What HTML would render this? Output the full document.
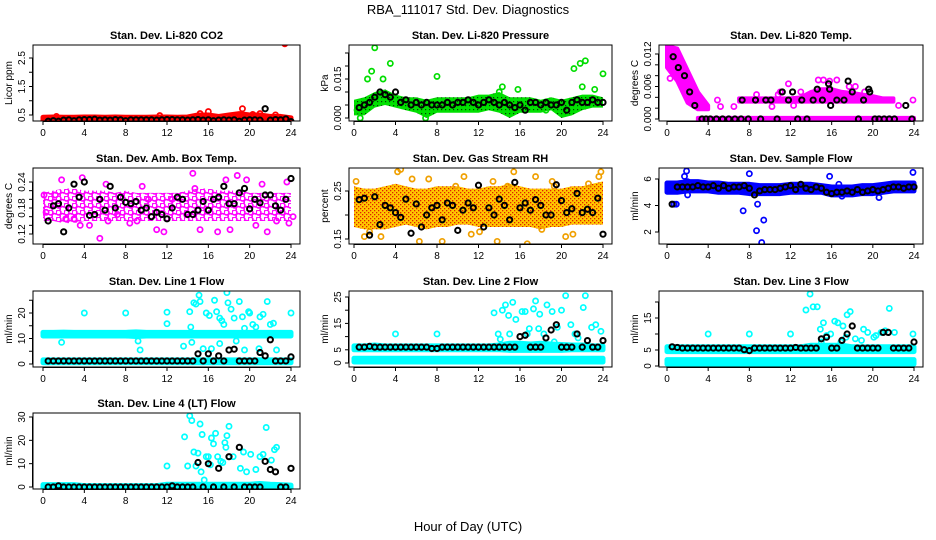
<!DOCTYPE html>
<html><head><meta charset="utf-8"><style>
html,body{margin:0;padding:0;background:#fff}
svg{display:block;font-family:"Liberation Sans",sans-serif}
</style></head><body>
<svg id="chart" width="936" height="540" xmlns="http://www.w3.org/2000/svg">
<defs>
<pattern id="pat-amb" width="8" height="7" patternUnits="userSpaceOnUse">
<circle cx="2.5" cy="2.5" r="2.4" fill="none" stroke="#ff00ff" stroke-width="1.6"/>
<circle cx="6.5" cy="6" r="2.4" fill="none" stroke="#ff00ff" stroke-width="1.6"/>
</pattern>
<pattern id="pat-rh" width="4" height="4" patternUnits="userSpaceOnUse">
<rect width="4" height="4" fill="#ffc800"/>
<rect x="0" y="0" width="1.3" height="1.3" fill="#e02000"/>
<rect x="2" y="2" width="1.3" height="1.3" fill="#e02000"/>
</pattern>
<pattern id="pat-pres" width="4" height="4" patternUnits="userSpaceOnUse">
<rect width="4" height="4" fill="#00e000"/>
<rect x="1" y="1" width="1.2" height="1.2" fill="#004000"/>
</pattern>
</defs>
<rect width="936" height="540" fill="#fff"/>
<text x="468" y="14" font-size="13" text-anchor="middle">RBA_111017  Std. Dev. Diagnostics</text>
<text x="468" y="531" font-size="13" text-anchor="middle">Hour of Day (UTC)</text>
</svg>
<script>
// ---------- data ----------
const hourCats = [0,1,2,3,4,5,6,7,8,9,10,11,12,13,14,15,16,17,18,19,20,21,22,23,24];
const halfHours = [0.5,1,1.5,2,2.5,3,3.5,4,4.5,5,5.5,6,6.5,7,7.5,8,8.5,9,9.5,10,10.5,11,11.5,12,12.5,13,13.5,14,14.5,15,15.5,16,16.5,17,17.5,18,18.5,19,19.5,20,20.5,21,21.5,22,22.5,23,23.5,24];

// CO2
const co2BandLo = [0.27,0.27,0.27,0.27,0.27,0.27,0.27,0.27,0.27,0.27,0.27,0.27,0.27,0.27,0.27,0.27,0.27,0.27,0.27,0.27,0.27,0.27,0.27,0.27,0.2];
const co2BandHi = [0.42,0.43,0.42,0.42,0.43,0.43,0.42,0.43,0.42,0.42,0.42,0.43,0.43,0.42,0.43,0.5,0.5,0.45,0.5,0.55,0.5,0.5,0.45,0.45,0.4];
const co2ScatH = [16,19.3,23.4,15.2,20.3,1.3,11.3,21,22.5];
const co2ScatV = [0.62,0.72,3.0,0.55,0.52,0.45,0.48,0.55,0.5];
const co2Black = [0.28,0.3,0.28,0.32,0.33,0.3,0.33,0.34,0.34,0.35,0.32,0.33,0.32,0.34,0.33,0.3,0.33,0.33,0.33,0.33,0.33,0.32,0.33,0.34,0.34,0.33,0.33,0.32,0.33,0.34,0.32,0.33,0.3,0.32,0.33,0.32,0.33,0.28,0.32,0.33,0.33,0.32,0.72,0.32,0.34,0.33,0.36,0.27];

// Pressure
const presBandLo = [0.001,0.001,0.004,0.005,0.004,0.003,0.002,0.000,0.002,0.002,0.002,0.002,0.002,0.003,0.002,0.000,0.002,0.002,0.002,0.003,0.000,0.001,0.003,0.004,0.004];
const presBandHi = [0.007,0.008,0.010,0.011,0.009,0.008,0.008,0.007,0.008,0.008,0.008,0.008,0.009,0.009,0.010,0.008,0.008,0.008,0.007,0.008,0.007,0.008,0.009,0.009,0.008];
const presScatH = [2,1.3,1.7,2.8,3.5,8,14.3,15.8,21.2,21.8,22.3,24,23.2,18.5,0.6,6.9,14,22,0.3];
const presScatV = [0.027,0.015,0.018,0.015,0.021,0.016,0.012,0.011,0.019,0.021,0.022,0.017,0.011,0.003,0.0,0.0,0.01,0.012,0.003];
const presBlack = [0.004,0.005,0.006,0.008,0.010,0.009,0.008,0.010,0.006,0.007,0.005,0.006,0.005,0.006,0.005,0.005,0.005,0.006,0.005,0.006,0.006,0.007,0.006,0.005,0.006,0.007,0.006,0.005,0.006,0.005,0.004,0.005,0.003,0.006,0.006,0.005,0.006,0.005,0.005,0.006,0.003,0.006,0.007,0.006,0.006,0.007,0.006,0.006];

// Li-820 temp
const tempBandLo = [0.0095,0.007,0.003,0.0018,0.0018,null,null,0.0032,0.0032,0.0032,0.0032,0.0032,0.0032,0.0032,0.0032,0.0032,0.0032,0.0032,0.0032,0.0032,0.0032,0.0032,0.0032,null,null];
const tempBandHi = [0.0135,0.013,0.009,0.005,0.0025,null,null,0.0038,0.0038,0.0038,0.0038,0.0038,0.0038,0.0040,0.0050,0.0055,0.0055,0.0050,0.0048,0.0045,0.0042,0.0038,0.0038,null,null];
const tempBand2Lo = [null,null,null,-0.0003,-0.0003,-0.0003,-0.0003,-0.0003,-0.0003,-0.0003,-0.0003,-0.0003,-0.0003,-0.0003,-0.0003,-0.0003,-0.0003,-0.0003,-0.0003,-0.0003,-0.0003,-0.0003,-0.0003,-0.0003,-0.0003];
const tempBand2Hi = [null,null,null,0.0002,0.0002,0.0002,0.0002,0.0002,0.0002,0.0002,0.0002,0.0002,0.0002,0.0002,0.0002,0.0002,0.0002,0.0002,0.0002,0.0002,0.0002,0.0002,0.0002,0.0002,0.0002];
const tempScatH = [0.3,5.2,6.5,10.2,11.8,14.7,15.2,16.5,18.3,19.2,23.9,4.9,12.3,22.5,8.7,11,13,15.8,17.7,10.8];
const tempScatV = [0.0075,0.0023,0.0023,0.0023,0.0065,0.0072,0.0072,0.0072,0.006,0.005,0.0035,0.0035,0.0025,0.0025,0.0045,0.005,0.005,0.007,0.006,0.0045];
const tempBlackH = [0.6,1.1,1.7,2.2,2.7,3.4,3.8,4.2,4.8,5.4,6,6.6,7.2,7.3,7.9,8.6,9.1,9.6,10.1,10.7,11.2,11.8,12.2,12.7,13.1,13.6,14.2,14.6,15.1,15.7,15.8,15.9,16.5,17.2,17.6,18,18.6,19.1,19.6,19.7,20.2,20.6,21.1,21.6,22.1,23.2,23.8];
const tempBlackV = [0.0115,0.0095,0.008,0.005,0.0025,0,0,0,0,0,0,0,0,0.0035,0,0.0035,0,0.0035,0.0035,0,0.005,0.0035,0.005,0,0.0035,0,0.0035,0.0055,0.0035,0.0065,0.0055,0.0025,0.0035,0.0035,0.0070,0.0050,0,0.0035,0.0055,0.005,0,0,0,0,0,0.0025,0];

// Amb box temp
const ambBandLo = [0.15,0.15,0.145,0.145,0.15,0.15,0.15,0.15,0.15,0.15,0.15,0.15,0.15,0.15,0.15,0.15,0.15,0.15,0.15,0.15,0.15,0.15,0.15,0.15,0.15];
const ambBandHi = [0.215,0.22,0.225,0.225,0.22,0.22,0.22,0.215,0.22,0.215,0.215,0.215,0.215,0.215,0.22,0.225,0.225,0.22,0.22,0.22,0.215,0.215,0.215,0.215,0.215];
const ambScatH = [0.1,0.3,1.8,2.2,3.6,3.8,4.5,5.5,6.1,6.3,7.2,8.4,9.6,10.2,11,11.7,12.5,14.5,14.7,15.2,16.9,17.7,18.8,19.7,20.6,21.2,21.7,22.6,23.6,23.8,1.2,3.0,9.1,13.9,18.1,24.2];
const ambScatV = [0.21,0.17,0.245,0.155,0.14,0.25,0.14,0.11,0.235,0.15,0.165,0.145,0.23,0.2,0.13,0.125,0.2,0.26,0.225,0.13,0.125,0.245,0.255,0.245,0.14,0.235,0.125,0.15,0.24,0.145,0.21,0.155,0.15,0.165,0.13,0.16];
const ambBlack = [0.15,0.185,0.19,0.125,0.18,0.235,0.205,0.24,0.163,0.165,0.2,0.175,0.23,0.18,0.205,0.193,0.19,0.195,0.175,0.18,0.16,0.17,0.165,0.155,0.18,0.205,0.2,0.165,0.165,0.175,0.195,0.175,0.2,0.205,0.23,0.19,0.19,0.215,0.225,0.178,0.2,0.192,0.21,0.21,0.185,0.175,0.2,0.248];

// Gas stream RH
const rhBandLo = [0.175,0.17,0.17,0.17,0.175,0.18,0.175,0.17,0.175,0.175,0.18,0.18,0.175,0.175,0.175,0.175,0.175,0.175,0.17,0.175,0.175,0.18,0.18,0.18,0.18];
const rhBandHi = [0.26,0.255,0.255,0.26,0.265,0.26,0.255,0.255,0.26,0.26,0.26,0.255,0.255,0.26,0.26,0.265,0.26,0.255,0.255,0.255,0.255,0.26,0.26,0.265,0.27];
const rhScatH = [0.2,1.5,2.6,4.2,4.5,5.6,6.3,7.2,8.5,9.8,10.6,12.1,13.4,14.8,15.4,16.7,17.5,18.1,19.1,20.4,21.1,22.6,23.6,23.8,1.0,11.3,13.8,19.3];
const rhScatV = [0.27,0.165,0.155,0.29,0.295,0.275,0.145,0.275,0.145,0.26,0.28,0.165,0.27,0.26,0.29,0.14,0.28,0.17,0.27,0.155,0.16,0.265,0.28,0.29,0.155,0.16,0.145,0.26];
const rhBlack = [0.232,0.235,0.158,0.238,0.18,0.22,0.215,0.205,0.195,0.233,0.162,0.223,0.175,0.2,0.215,0.22,0.19,0.225,0.22,0.168,0.21,0.225,0.215,0.262,0.175,0.215,0.2,0.233,0.22,0.19,0.268,0.215,0.225,0.21,0.232,0.22,0.2,0.2,0.263,0.23,0.205,0.213,0.245,0.205,0.212,0.205,0.235,0.16];

// Sample flow
const sfBandLo = [5.0,5.0,5.1,5.1,5.1,5.0,5.0,5.0,4.9,4.9,4.9,4.9,5.0,5.0,5.0,5.0,4.8,4.8,4.8,4.9,4.9,5.0,5.1,5.1,5.1];
const sfBandHi = [5.7,5.7,5.8,5.8,5.7,5.7,5.6,5.6,5.6,5.5,5.5,5.5,5.6,5.6,5.6,5.5,5.4,5.4,5.4,5.5,5.5,5.6,5.7,5.7,5.7];
const sfScatH = [0.7,0.9,1.7,1.9,2.0,7.4,8.0,8.7,8.8,9.2,9.4,15.8,23.9,16.7,17.0,20.6,2.0];
const sfScatV = [4.1,4.1,6.2,6.6,4.8,3.6,6.4,2.1,4.1,1.2,2.9,6.2,6.5,5.6,4.7,4.6,5.8];
const sfBlack = [4.1,5.4,5.4,5.4,5.4,5.5,5.4,5.4,5.5,5.3,5.5,5.3,5.4,5.4,5.5,5.3,4.8,5.1,5.2,5.2,5.2,5.3,5.4,5.5,5.2,5.6,5.3,5.2,5.4,5.3,5.0,4.9,5.0,5.0,5.1,5.0,5.2,5.0,5.1,5.2,5.1,5.2,5.3,5.4,5.4,5.3,5.4,5.4];

// Line 1 flow
const l1BandLo = [11.0,11.0,11.0,11.0,11.0,11.0,11.0,11.0,11.0,10.8,11.0,11.0,11.0,11.0,11.0,11.0,11.0,11.0,11.0,11.0,11.0,11.0,11.0,11.0,11.0];
const l1BandHi = [12.4,12.4,12.5,12.4,12.4,12.4,12.4,12.4,12.4,12.6,12.4,12.4,12.4,12.4,12.4,12.4,12.4,12.4,12.4,12.4,12.4,12.4,12.4,12.4,12.4];
const l1Band2Lo = [0.5,0.5,0.5,0.5,0.5,0.5,0.5,0.5,0.5,0.5,0.5,0.5,0.5,0.5,0.5,0.5,0.5,0.5,0.5,0.5,0.5,0.5,0.5,0.5,0.5];
const l1Band2Hi = [1.6,1.6,1.6,1.6,1.6,1.6,1.6,1.6,1.6,1.6,1.6,1.6,1.6,1.6,1.6,1.6,1.6,1.6,1.6,1.6,1.6,1.6,1.6,1.6,1.6];
const l1ScatH = [4,8,12,12,14.2,14.3,14.6,14.8,15.1,15.2,15.5,15.8,16.1,16.6,16.8,17.1,17.3,17.5,17.8,17.9,18.2,18.5,19,19.3,19.5,19.9,20,20.3,20.6,21,21.3,21.7,22,22.3,22.6,24,1.8,9.2,9.4,13.6,14.4,16.3,17.1,18.7,19.5,20.9];
const l1ScatV = [20,20,20.3,15.8,20.5,14.5,24,23.5,27,24.5,6,20,19,25,20.5,18,17,15.5,28,24,21.5,18,24.5,18.5,14,20.5,20,15.5,14.5,18.5,19.5,24.5,15.5,16,5.5,20,8.5,9,5.5,7,8.5,6,8,9,5.5,6];
const l1Black = [1.2,1.2,1.2,1.2,1.2,1.2,1.2,1.2,1.2,1.2,1.2,1.2,1.2,1.2,1.2,1.2,1.2,1.2,1.2,1.2,1.2,1.2,1.2,1.2,1.2,1.2,1.2,1.2,1.2,4,1.2,4,1.2,3.2,1.2,5.5,5.8,1.2,1.2,1.2,1.2,4.5,3.2,9.5,1.2,1.2,1.2,2.8];

// Line 2 flow
const l2BandLo = [5.0,5.0,5.0,5.0,5.0,5.0,5.0,5.0,5.0,5.0,5.0,5.0,5.0,5.0,5.0,4.8,4.8,4.8,4.8,4.8,4.8,5.0,5.0,5.0,5.0];
const l2BandHi = [6.5,6.5,6.8,6.5,6.5,6.5,6.5,6.5,6.5,6.5,6.5,6.5,6.5,6.5,6.8,7.5,7.5,7.2,7.5,7.2,7.0,6.8,6.8,6.5,6.5];
const l2Band2Lo = [0.4,0.4,0.4,0.4,0.4,0.4,0.4,0.4,0.4,0.4,0.4,0.4,0.4,0.4,0.4,0.4,0.4,0.4,0.4,0.4,0.4,0.4,0.4,0.4,0.4];
const l2Band2Hi = [1.8,1.8,1.8,1.8,1.8,1.8,1.8,1.8,1.8,1.8,1.8,1.8,1.8,1.8,1.8,1.8,1.8,1.8,1.8,1.8,1.8,1.8,1.8,1.8,1.8];
const l2ScatH = [4,8,13.5,13.9,14.3,14.6,14.9,15.3,15.6,16.2,16.5,16.7,16.9,17.3,17.5,17.9,18.3,18.6,19.1,19.6,20,20.4,20.9,21.3,21.6,22.1,22.3,22.9,23.3,23.8,14.1,15,17.8,19.3];
const l2ScatV = [11,11,19,11,20,22,18,23,16.5,19.5,19.5,11,13,20.5,23.5,18.5,11,22,19.5,13.5,20,25.5,14.5,11,9.5,21,25.5,13.5,14.5,12,9,11,13,8];
const l2Black = [6,6,6.3,6,6,6,6,6,6,6,6,6,6,6,5.5,5.5,6,6,6,6,6,6,6,6,6,6,6,6,6,6,6,10,10.5,6,6,6,9.5,12.5,14.5,6,6,6,11,6,8.5,6,6,8.5];

// Line 3 flow
const l3BandLo = [4.5,4.5,4.5,4.5,4.5,4.5,4.5,4.5,4.5,4.5,4.5,4.5,4.5,4.5,4.5,4.5,4.5,4.5,4.5,4.5,4.5,4.5,4.5,4.5,4.5];
const l3BandHi = [6.0,6.0,6.0,6.0,6.0,6.0,6.0,6.0,6.0,6.0,6.0,6.0,6.0,6.0,6.5,6.5,6.5,6.5,6.0,6.0,6.0,6.0,6.0,6.0,6.0];
const l3Band2Lo = [0.6,0.6,0.6,0.6,0.6,0.6,0.6,0.6,0.6,0.6,0.6,0.6,0.6,0.6,0.6,0.6,0.6,0.6,0.6,0.6,0.6,0.6,0.6,0.6,0.6];
const l3Band2Hi = [2.0,2.0,2.0,2.0,2.0,2.0,2.0,2.0,2.0,2.0,2.0,2.0,2.0,2.0,2.0,2.0,2.0,2.0,2.0,2.0,2.0,2.0,2.0,2.0,2.0];
const l3ScatH = [4,8,12,13.5,13.9,14.2,14.6,14.9,15.2,15.5,15.9,16.3,16.6,17.1,17.5,17.8,18.3,19.1,19.5,20.3,20.8,21.2,21.6,22.1,23.9,15,16.9,17.4,18.9,20.1];
const l3ScatV = [10,10,10,17.5,22.5,18.5,18.5,11.5,13.5,9.5,10,14,13.5,12.5,16,17,8.5,11.5,10.5,9.5,10.5,11,18,10.5,10,7.5,7.5,9,8,9];
const l3Black = [6,5.8,5.6,5.6,5.6,5.6,5.6,5.6,5.6,5.6,5.6,5.6,5.6,5.6,5.1,4.8,5.6,5.6,5.6,5.6,5.6,5.6,5.6,5.6,5.8,5.6,5.6,5.6,5.6,8.5,9,5.6,5.6,8,10,12.5,5.6,5.6,5.6,5.6,5.6,10.5,10.5,5.6,5.6,5.6,5.6,7.5];

// Line 4 flow
const l4BandLo = [-0.6,-0.6,-0.6,-0.6,-0.6,-0.6,-0.6,-0.6,-0.6,-0.6,-0.6,-0.6,-0.6,-0.6,-0.6,-0.6,-0.6,-0.6,-0.6,-0.6,-0.6,-0.6,-0.6,-0.6,-0.6];
const l4BandHi = [1.0,1.0,1.0,1.0,0.6,0.6,0.6,0.6,0.6,0.6,0.6,0.6,1.2,1.2,1.2,1.2,1.2,1.2,1.2,1.2,1.2,1.5,1.2,1.0,0.8];
const l4ScatH = [12,13.7,14,14.2,14.4,14.6,14.8,15,15.2,15.3,15.6,15.8,16,16.3,16.5,16.7,16.9,17.2,17.4,17.6,17.8,18,18.4,19.1,19.4,19.7,20.1,20.6,21,21.3,21.6,22.1,22.4,22.6,15.4,16.2,17.7];
const l4ScatV = [9,21.5,9,30.5,28.5,15,9,14.5,27,6.5,3,13,13,21,18.5,23,13,11,10.5,19,22,26,13,8,15,6.5,14,7.5,13,14,25.5,11.5,16,17,22.5,9.5,17];
const l4Black = [0,0,0.5,0,0,0,0,0,0,0,0,0,0,0,0,0,0,0,0,0,0,0,0,0,0.5,0,0,0,0,10.5,0,10,0,8,0,13,0,17,0,0,0,0,11,7.5,6.5,0,0,8];

// ---------- drawing ----------
const NS = "http://www.w3.org/2000/svg";
const svg = document.getElementById('chart');
function mk(tag, attrs, parent) {
  const e = document.createElementNS(NS, tag);
  for (const k in attrs) e.setAttribute(k, attrs[k]);
  (parent || svg).appendChild(e);
  return e;
}
const COLS = [{l:33,r:300,h0:43,h24:291},{l:349,r:612,h0:354,h24:603},{l:659,r:923,h0:667,h24:914}];
const ROWS = [{t:45,b:121},{t:168,b:244},{t:291,b:367},{t:413,b:489}];
const xTicks = [0,4,8,12,16,20,24];

const panels = [
 {name:'co2',title:'Stan. Dev. Li-820 CO2',ylab:'Licor ppm',c:0,r:0,ya:[0.5,115],yb:[2.5,58],ticks:[0.5,1,1.5,2,2.5,3],labels:[0.5,1.5,2.5],fmt:1,color:'#ff0000',fill:'#ff0000',edge:5,bands:[[co2BandLo,co2BandHi]],sH:co2ScatH,sV:co2ScatV,bH:halfHours,bV:co2Black},
 {name:'pressure',title:'Stan. Dev. Li-820 Pressure',ylab:'kPa',c:1,r:0,ya:[0,118],yb:[0.015,79],ticks:[0,0.005,0.01,0.015,0.02,0.025],labels:[0,0.015],fmt:3,color:'#00dd00',fill:'url(#pat-pres)',edge:0,bands:[[presBandLo,presBandHi]],sH:presScatH,sV:presScatV,bH:halfHours,bV:presBlack},
 {name:'li820-temp',title:'Stan. Dev. Li-820 Temp.',ylab:'degrees C',c:2,r:0,ya:[0,119],yb:[0.012,54],ticks:[0,0.002,0.004,0.006,0.008,0.01,0.012],labels:[0,0.006,0.012],fmt:3,color:'#ff00ff',fill:'#ff00ff',edge:4,bands:[[tempBandLo,tempBandHi],[tempBand2Lo,tempBand2Hi]],sH:tempScatH,sV:tempScatV,bH:tempBlackH,bV:tempBlackV},
 {name:'amb-box-temp',title:'Stan. Dev. Amb. Box Temp.',ylab:'degrees C',c:0,r:1,ya:[0.12,234],yb:[0.24,182],ticks:[0.12,0.14,0.16,0.18,0.2,0.22,0.24],labels:[0.12,0.18,0.24],fmt:2,color:'#ff00ff',fill:'url(#pat-amb)',edge:0,bands:[[ambBandLo,ambBandHi]],sH:ambScatH,sV:ambScatV,bH:halfHours,bV:ambBlack},
 {name:'gas-rh',title:'Stan. Dev. Gas Stream RH',ylab:'percent',c:1,r:1,ya:[0.15,239],yb:[0.25,191],ticks:[0.15,0.2,0.25],labels:[0.15,0.25],fmt:2,color:'#f0a000',fill:'url(#pat-rh)',edge:0,bands:[[rhBandLo,rhBandHi]],sH:rhScatH,sV:rhScatV,bH:halfHours,bV:rhBlack},
 {name:'sample-flow',title:'Stan. Dev. Sample Flow',ylab:'ml/min',c:2,r:1,ya:[2,232],yb:[6,179],ticks:[2,4,6],labels:[2,4,6],fmt:0,color:'#0000ff',fill:'#0000ff',edge:5,bands:[[sfBandLo,sfBandHi]],sH:sfScatH,sV:sfScatV,bH:halfHours,bV:sfBlack},
 {name:'line1-flow',title:'Stan. Dev. Line 1 Flow',ylab:'ml/min',c:0,r:2,ya:[0,364],yb:[20,313],ticks:[0,5,10,15,20,25],labels:[0,10,20],fmt:0,color:'#00ffff',fill:'#00ffff',edge:5,bands:[[l1BandLo,l1BandHi],[l1Band2Lo,l1Band2Hi]],sH:l1ScatH,sV:l1ScatV,bH:halfHours,bV:l1Black},
 {name:'line2-flow',title:'Stan. Dev. Line 2 Flow',ylab:'ml/min',c:1,r:2,ya:[0,363],yb:[25,297],ticks:[0,5,10,15,20,25],labels:[0,5,15,25],fmt:0,color:'#00ffff',fill:'#00ffff',edge:5,bands:[[l2BandLo,l2BandHi],[l2Band2Lo,l2Band2Hi]],sH:l2ScatH,sV:l2ScatV,bH:halfHours,bV:l2Black},
 {name:'line3-flow',title:'Stan. Dev. Line 3 Flow',ylab:'ml/min',c:2,r:2,ya:[0,366],yb:[15,318],ticks:[0,5,10,15,20],labels:[0,5,15],fmt:0,color:'#00ffff',fill:'#00ffff',edge:5,bands:[[l3BandLo,l3BandHi],[l3Band2Lo,l3Band2Hi]],sH:l3ScatH,sV:l3ScatV,bH:halfHours,bV:l3Black},
 {name:'line4-flow',title:'Stan. Dev. Line 4 (LT) Flow',ylab:'ml/min',c:0,r:3,ya:[0,487],yb:[30,417],ticks:[0,10,20,30],labels:[0,10,20,30],fmt:0,color:'#00ffff',fill:'#00ffff',edge:5,bands:[[l4BandLo,l4BandHi]],sH:l4ScatH,sV:l4ScatV,bH:halfHours,bV:l4Black}
];

panels.forEach(p => {
  const C = COLS[p.c], R = ROWS[p.r];
  const xs = h => C.h0 + (C.h24 - C.h0) * h / 24;
  const ys = v => p.ya[1] + (v - p.ya[0]) * (p.yb[1] - p.ya[1]) / (p.yb[0] - p.ya[0]);
  const g = mk('g', {});
  
  
  const cp = mk('clipPath', {id: 'cp-' + p.name}, g);
  mk('rect', {x: C.l, y: R.t, width: C.r - C.l, height: R.b - R.t}, cp);
  const plot = mk('g', {'clip-path': 'url(#cp-' + p.name + ')'}, g);
  p.bands.forEach(([lo, hi]) => {
    let seg = [];
    const flush = () => {
      if (seg.length > 1) {
        const top = seg.map(i => xs(hourCats[i]) + ',' + ys(hi[i])).join(' ');
        const bot = seg.slice().reverse().map(i => xs(hourCats[i]) + ',' + ys(lo[i])).join(' ');
        const attrs = {points: top + ' ' + bot, fill: p.fill, 'stroke-linejoin': 'round'};
        if (p.edge) { attrs.stroke = p.color; attrs['stroke-width'] = p.edge; } else { attrs.stroke = 'none'; }
        const poly = mk('polygon', attrs, plot);
        
        
      }
      seg = [];
    };
    hourCats.forEach((h, i) => { if (lo[i] === null || hi[i] === null) flush(); else seg.push(i); });
    flush();
  });
  p.sH.forEach((h, i) => {
    const c = mk('circle', {cx: xs(h), cy: ys(p.sV[i]), r: 2.6, fill: 'none', stroke: p.color, 'stroke-width': 1.7}, plot);
    
    
  });
  p.bH.forEach((h, i) => {
    const c = mk('circle', {cx: xs(h), cy: ys(p.bV[i]), r: 2.6, fill: 'none', stroke: '#000', 'stroke-width': 2}, plot);
    
    
  });
  const box = mk('rect', {x: C.l, y: R.t, width: C.r - C.l, height: R.b - R.t, fill: 'none', stroke: '#000', 'stroke-width': 1}, g);
  
  
  const t = mk('text', {x: (C.l + C.r) / 2, y: R.t - 6, 'font-size': 11, 'font-weight': 'bold', 'text-anchor': 'middle'}, g);
  t.textContent = p.title;
  
  
  mk('line', {x1: xs(0), x2: xs(24), y1: R.b + 0.5, y2: R.b + 0.5, stroke: '#000'}, g);
  xTicks.forEach(h => {
    mk('line', {x1: xs(h), x2: xs(h), y1: R.b, y2: R.b + 4, stroke: '#000'}, g);
    const tl = mk('text', {x: xs(h), y: R.b + 15, 'font-size': 10, 'text-anchor': 'middle'}, g);
    tl.textContent = h;
    
    
  });
  const yt = p.ticks.filter(v => ys(v) >= R.t - 1 && ys(v) <= R.b + 1);
  mk('line', {x1: C.l - 0.5, x2: C.l - 0.5, y1: ys(yt[0]), y2: ys(yt[yt.length - 1]), stroke: '#000'}, g);
  yt.forEach(v => mk('line', {x1: C.l - 4, x2: C.l, y1: ys(v), y2: ys(v), stroke: '#000'}, g));
  p.labels.forEach(v => {
    const x = C.l - 8, y = ys(v);
    const tl = mk('text', {x: x, y: y, 'font-size': 10, 'text-anchor': 'middle', transform: 'rotate(-90 ' + x + ' ' + y + ')'}, g);
    tl.textContent = v.toFixed(p.fmt);
    
    
  });
  const ax = C.l - 21, ay = (R.t + R.b) / 2;
  const yl = mk('text', {x: ax, y: ay, 'font-size': 10, 'text-anchor': 'middle', transform: 'rotate(-90 ' + ax + ' ' + ay + ')'}, g);
  yl.textContent = p.ylab;
  
  
});
</script>
</body></html>
